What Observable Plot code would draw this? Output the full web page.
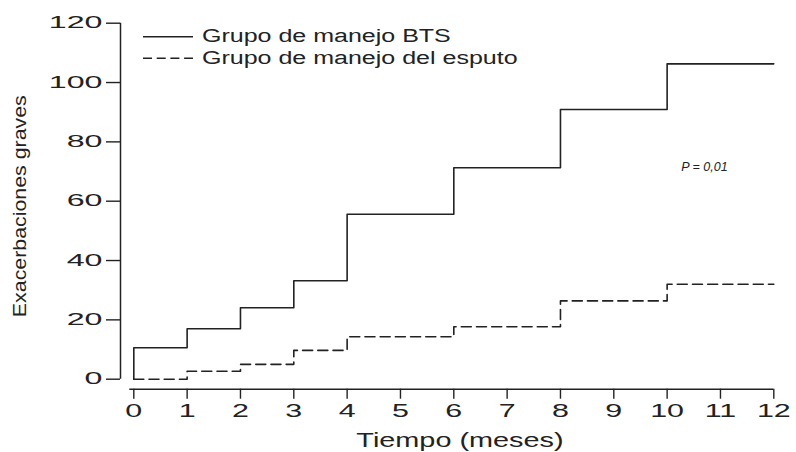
<!DOCTYPE html>
<html>
<head>
<meta charset="utf-8">
<script src="https://cdn.jsdelivr.net/npm/d3@7"></script>
<script src="https://cdn.jsdelivr.net/npm/@observablehq/plot@0.6"></script>
<style>
  body { margin: 0; background: #fff; }
  #chart svg { display: block; }
</style>
</head>
<body>
<div id="chart"></div>
<script>
// Cumulative severe exacerbations per month, by management strategy
const btsMonths = [0, 0, 1, 2, 3, 4, 6, 8, 10, 12];
const btsEvents = [0, 10.6, 17, 24.1, 33.2, 55.6, 71.3, 90.9, 106.3, 106.3];
const sputumMonths = [0, 1, 2, 3, 4, 6, 8, 10, 12];
const sputumEvents = [0, 2.7, 5, 9.7, 14.3, 17.7, 26.4, 32, 32];

const xTicks = [0, 1, 2, 3, 4, 5, 6, 7, 8, 9, 10, 11, 12];
const yTicks = [0, 20, 40, 60, 80, 100, 120];

const seriesNames = ["Grupo de manejo BTS", "Grupo de manejo del esputo"];
const seriesDash = [null, "9,4.7"];

const xLabel = "Tiempo (meses)";
const yLabel = "Exacerbaciones graves";
const pNote = [{month: 10.7, events: 71.5, text: "P = 0,01"}];

const ink = "#222";
const font = "'Liberation Sans', Arial, Helvetica, sans-serif";

const bts = btsMonths.map((m, i) => ({month: m, events: btsEvents[i]}));
const sputum = sputumMonths.map((m, i) => ({month: m, events: sputumEvents[i]}));

const chart = Plot.plot({
  width: 796,
  height: 452,
  marginLeft: 120,
  marginRight: 22.7,
  marginTop: 22.7,
  marginBottom: 63.3,
  style: {fontFamily: font, color: ink, background: "#fff", overflow: "visible"},
  x: {domain: [0, 12], insetLeft: 13.3},
  y: {domain: [0, 120], insetBottom: 10},
  marks: [
    // detached axis lines
    Plot.ruleX([0], {y1: 0, y2: 120, dx: -13.3, stroke: ink, strokeWidth: 1.5}),
    Plot.ruleY([0], {x1: 0, x2: 12, dy: 10, insetLeft: -4, stroke: ink, strokeWidth: 1.5}),
    Plot.axisY({ticks: yTicks, tickSize: 14, tickPadding: 4, fontSize: 16.5, label: null, strokeWidth: 1.4}),
    Plot.axisX({ticks: xTicks, tickSize: 10, tickPadding: 4.6, fontSize: 19, label: null, strokeWidth: 1.4, tickFormat: d => String(d)}),
    Plot.line(bts, {x: "month", y: "events", curve: "step-after", stroke: ink, strokeWidth: 1.6}),
    Plot.line(sputum, {x: "month", y: "events", curve: "step-after", stroke: ink, strokeWidth: 1.6, strokeDasharray: "10,5.2"}),
    Plot.text(pNote, {x: "month", y: "events", text: "text", fontSize: 12.5, fontStyle: "italic", fill: ink}),
    Plot.text([xLabel], {text: d => d, frameAnchor: "bottom", lineAnchor: "middle", textAnchor: "middle", dx: 12.8, dy: 51.8, fontSize: 19.5, fill: ink}),
    Plot.text([yLabel], {text: d => d, frameAnchor: "left", lineAnchor: "middle", textAnchor: "middle", rotate: -90, dx: -100.6, fontSize: 17.5, fill: ink})
  ]
});

document.getElementById("chart").appendChild(chart);

// Widen the lettering horizontally (the typeface used here is an extended face)
function stretchText(nodes, sx) {
  nodes.forEach(el => {
    let t = el.getAttribute("transform");
    if (!t) {
      const x = el.getAttribute("x") || 0, y = el.getAttribute("y") || 0;
      el.removeAttribute("x");
      el.removeAttribute("y");
      t = `translate(${x},${y})`;
    }
    el.setAttribute("transform", `${t} scale(${sx},1)`);
  });
}
const allText = Array.from(chart.querySelectorAll("text"));
const byContent = s => allText.filter(el => el.textContent === s);
stretchText(Array.from(chart.querySelectorAll('g[aria-label="y-axis tick label"] text')), 1.95);
stretchText(Array.from(chart.querySelectorAll('g[aria-label="x-axis tick label"] text')), 1.6);
stretchText(byContent(xLabel), 1.48);
stretchText(byContent(yLabel), 1.22);

// Legend
const legend = d3.select(chart).append("g")
  .attr("font-family", font)
  .attr("font-size", 18)
  .attr("text-anchor", "start")
  .attr("fill", ink);
seriesNames.forEach((name, i) => {
  const y = 36.7 + i * 21.6;
  const line = legend.append("line")
    .attr("x1", 143).attr("x2", 193)
    .attr("y1", y).attr("y2", y)
    .attr("stroke", ink).attr("stroke-width", 1.5);
  if (seriesDash[i]) line.attr("stroke-dasharray", seriesDash[i]);
  legend.append("text")
    .attr("transform", `translate(202,${y}) scale(1.39,1)`)
    .attr("dy", "0.32em")
    .text(name);
});
</script>
</body>
</html>
